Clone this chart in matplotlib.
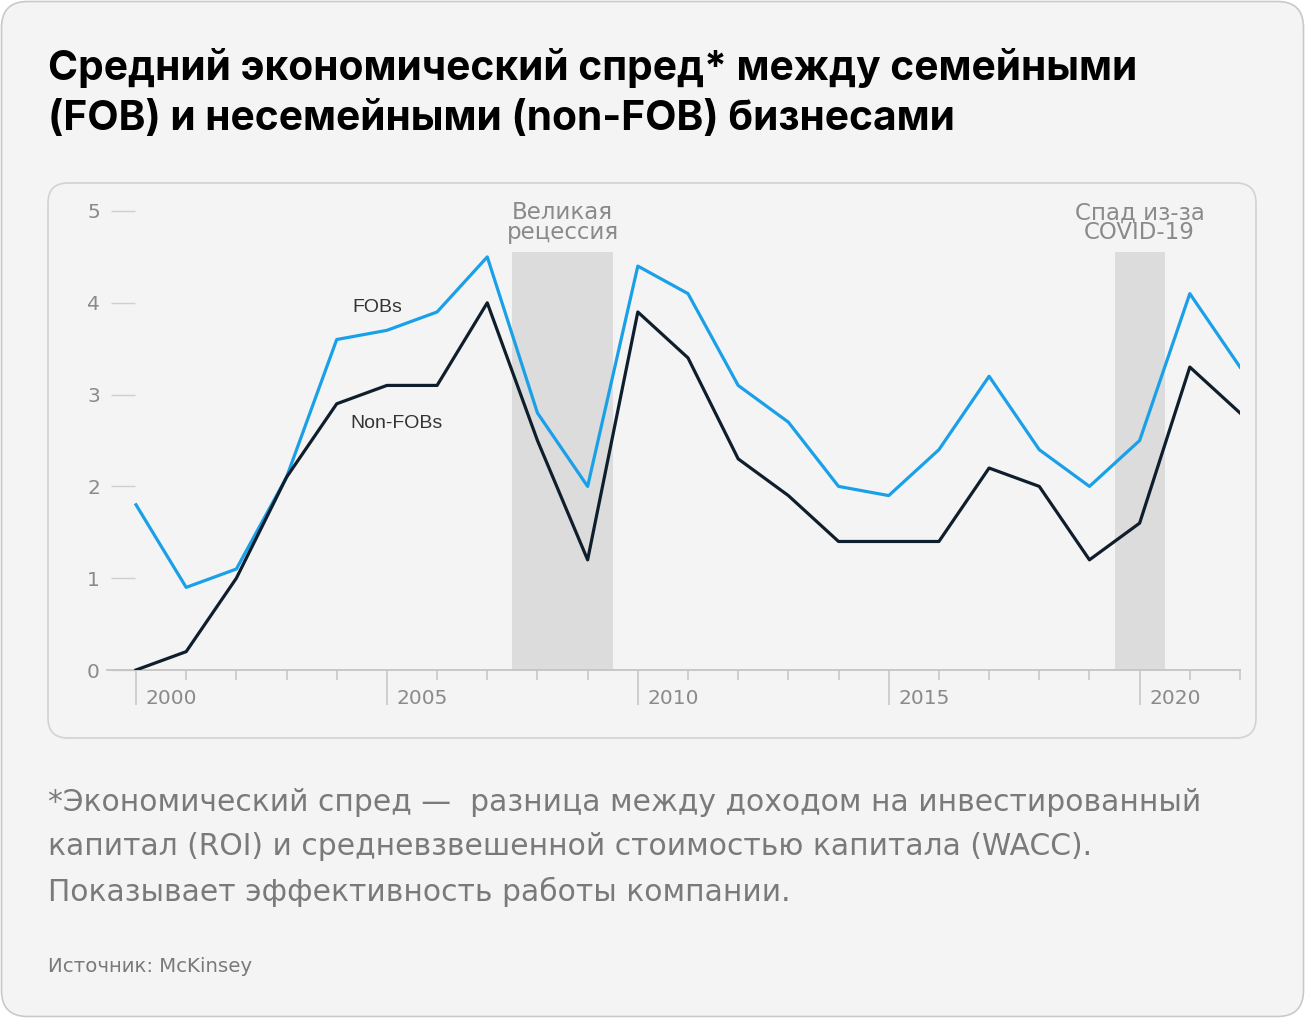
import numpy as np
import matplotlib.pyplot as plt
import matplotlib.transforms as mtransforms
from matplotlib.patches import FancyBboxPatch

# dane z wykresu (2000-2022)
years = np.arange(2000, 2023)
fobs = [1.8, 0.9, 1.1, 2.1, 3.6, 3.7, 3.9, 4.5, 2.8, 2.0, 4.4, 4.1, 3.1, 2.7,
        2.0, 1.9, 2.4, 3.2, 2.4, 2.0, 2.5, 4.1, 3.3]
non_fobs = [0.0, 0.2, 1.0, 2.1, 2.9, 3.1, 3.1, 4.0, 2.5, 1.2, 3.9, 3.4, 2.3, 1.9,
            1.4, 1.4, 1.4, 2.2, 2.0, 1.2, 1.6, 3.3, 2.8]

crisis_start = [2007.5, 2019.5]
crisis_end = [2009.5, 2020.5]
crisis_top = 4.55
crisis_labels = ['Великая\nрецессия', 'Спад из-за\nCOVID-19']

y_ticks = [0, 1, 2, 3, 4, 5]
major_years = [2000, 2005, 2010, 2015, 2020]

title = 'Средний экономический спред* между семейными\n(FOB) и несемейными (non-FOB) бизнесами'
note = ('*Экономический спред —  разница между доходом на инвестированный\n'
        'капитал (ROI) и средневзвешенной стоимостью капитала (WACC).\n'
        'Показывает эффективность работы компании.')
source = 'Источник: McKinsey'

BG = '#f4f4f4'
BLUE = '#1aa0e8'
NAVY = '#0f1e2d'
GRAY = '#8a8a8a'

W, H = 1305, 1018
fig = plt.figure(figsize=(W / 100, H / 100), dpi=100, facecolor='white')

# karta i panel wykresu (w pikselach)
ident = mtransforms.IdentityTransform()
card = FancyBboxPatch((1.5, 1.5), W - 3, H - 3, boxstyle='round,pad=0,rounding_size=26',
                      facecolor=BG, edgecolor='#c9c9c9', linewidth=1.2, transform=ident,
                      zorder=-2)
fig.add_artist(card)
panel = FancyBboxPatch((48, H - 738), 1256 - 48, 738 - 183,
                       boxstyle='round,pad=0,rounding_size=20',
                       facecolor=BG, edgecolor='#d2d2d2', linewidth=1.2, transform=ident,
                       zorder=-1)
fig.add_artist(panel)

# osie
px_year = 50.2
px_unit = 91.8
x_left = 2000 - (136 - 107) / px_year
x_right = 2000 + (1240 - 136) / px_year
y_top = 5.3
ax = fig.add_axes([107 / W, (H - 670) / H, (1240 - 107) / W, y_top * px_unit / H])
ax.set_facecolor('none')
ax.set_xlim(x_left, x_right)
ax.set_ylim(0, y_top)

for s in ['top', 'right']:
    ax.spines[s].set_visible(False)
ax.spines['left'].set_position(('data', 2000 - 25 / px_year))
ax.spines['left'].set_visible(False)
ax.spines['bottom'].set_color('#c4c4c4')
ax.spines['bottom'].set_linewidth(1.3)

ax.set_yticks(y_ticks)
ax.tick_params(axis='y', direction='in', length=24 * 0.72, width=1, color='#cfcfcf',
               labelsize=14.5, labelcolor=GRAY, pad=8)

ax.set_xticks(major_years)
ax.set_xticks(years, minor=True)
ax.set_xticklabels([])
ax.tick_params(axis='x', which='major', length=35 * 0.72, width=1.1, color='#c4c4c4')
ax.tick_params(axis='x', which='minor', length=10 * 0.72, width=1.1, color='#c4c4c4')

for yr in major_years:
    ax.annotate(str(yr), xy=(yr, 0), xycoords=('data', 'axes fraction'),
                xytext=(7, -29 * 0.72), textcoords='offset points',
                ha='left', va='center', fontsize=14.5, color=GRAY,
                family='DejaVu Sans')

# okresy kryzysu
for x0, x1, lab in zip(crisis_start, crisis_end, crisis_labels):
    ax.fill_between([x0, x1], 0, crisis_top, color='#dcdcdc', linewidth=0, zorder=1)
    ax.text((x0 + x1) / 2, 4.87, lab, ha='center', va='center', fontsize=16.5,
            color=GRAY, linespacing=0.83, family='DejaVu Sans', clip_on=False)

ax.plot(years, fobs, color=BLUE, linewidth=2.3, zorder=3)
ax.plot(years, non_fobs, color=NAVY, linewidth=2.3, zorder=3)

ax.text(2004.8, 3.95, 'FOBs', ha='center', va='center', fontsize=14, color='#333333',
        family='Liberation Sans')
ax.text(2005.2, 2.68, 'Non-FOBs', ha='center', va='center', fontsize=14, color='#333333',
        family='Liberation Sans')

for lbl in ax.get_yticklabels():
    lbl.set_family('DejaVu Sans')

# teksty
fig.text(48 / W, 1 - 48 / H, title, ha='left', va='top', fontsize=29.3, fontweight='bold',
         color='black', family='Inter', linespacing=1.4)
fig.text(48 / W, 1 - 788 / H, note, ha='left', va='top', fontsize=21.4, color='#7a7a7a',
         family='DejaVu Sans', linespacing=1.65)
fig.text(48 / W, 1 - 966 / H, source, ha='left', va='center', fontsize=14.2, color='#7a7a7a',
         family='DejaVu Sans')

fig.savefig('out.png', dpi=100, facecolor='white')
